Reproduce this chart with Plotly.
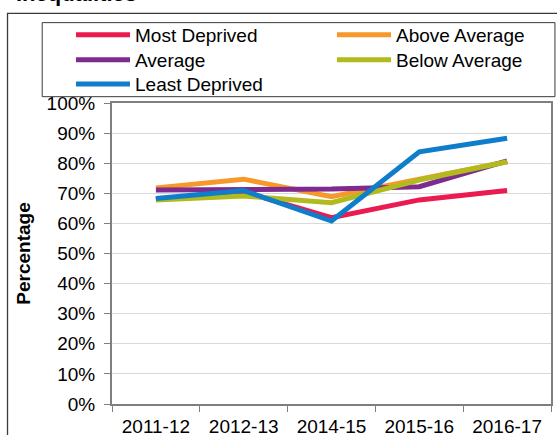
import plotly.graph_objects as go

years = ["2011-12", "2012-13", "2014-15", "2015-16", "2016-17"]
most_deprived = [68.0, 70.5, 61.9, 67.8, 70.9]
above_average = [71.8, 74.7, 68.9, 74.9, 80.5]
average = [71.1, 71.1, 71.4, 72.2, 80.8]
below_average = [67.8, 69.1, 66.9, 74.4, 80.5]
least_deprived = [68.3, 70.9, 60.8, 83.8, 88.3]

series = [
    ("Most Deprived", most_deprived, "#EB1A50", "legend"),
    ("Above Average", above_average, "#F7992A", "legend"),
    ("Average", average, "#7E2A8E", "legend2"),
    ("Below Average", below_average, "#B2BB1E", "legend2"),
    ("Least Deprived", least_deprived, "#0E7ECB", "legend3"),
]

FONT = "Liberation Sans, Arial, sans-serif"

fig = go.Figure()
for name, vals, col, lg in series:
    fig.add_trace(go.Scatter(x=years, y=vals, name=name, mode="lines",
                             line=dict(color=col, width=5), legend=lg))


def leg(y):
    return dict(orientation="h", x=-0.0934, xanchor="left", y=y, yanchor="top",
                entrywidth=192, entrywidthmode="pixels", itemwidth=54,
                bgcolor="rgba(0,0,0,0)", borderwidth=0,
                font=dict(family=FONT, size=19, color="black"),
                traceorder="normal")


fig.update_layout(
    width=557, height=435,
    margin=dict(l=112, r=6, t=103, b=31, autoexpand=False),
    paper_bgcolor="white", plot_bgcolor="white",
    font=dict(family=FONT, size=19, color="black"),
    showlegend=True,
    legend=leg(1.289),
    legend2=leg(1.206),
    legend3=leg(1.126),
    xaxis=dict(type="category", range=[-0.5, 4.5], tickson="boundaries",
               ticks="outside", ticklen=6, tickcolor="#7f7f7f", tickwidth=1,
               showline=True, linecolor="#7f7f7f", linewidth=2, mirror=True,
               showgrid=False, ticklabelstandoff=4,
               tickfont=dict(family=FONT, size=19, color="black")),
    yaxis=dict(range=[0, 100], dtick=10, ticksuffix="%",
               ticks="outside", ticklen=6, tickcolor="#7f7f7f", tickwidth=1,
               showline=True, linecolor="#7f7f7f", linewidth=2, mirror=True,
               showgrid=True, gridcolor="#d9d9d9", gridwidth=1,
               ticklabelstandoff=5, zeroline=False,
               title=dict(text="<b>Percentage</b>", standoff=11,
                          font=dict(family=FONT, size=19, color="black")),
               tickfont=dict(family=FONT, size=19, color="black")),
    shapes=[
        dict(type="path", xref="paper", yref="paper",
             path="M -0.238,-0.2 L -0.238,1.298 L 1.05,1.298",
             line=dict(color="#3a3a3a", width=1.3)),
        dict(type="rect", xref="paper", yref="paper",
             x0=-0.159, x1=1.009, y0=1.021, y1=1.267,
             line=dict(color="#3a3a3a", width=1), fillcolor="rgba(0,0,0,0)"),
    ],
    annotations=[
        dict(text="<b>Inequalities</b>", xref="paper", yref="paper",
             x=-0.2233, y=1.317, xanchor="left", yanchor="bottom",
             showarrow=False, font=dict(family=FONT, size=22, color="black")),
    ],
)

fig.write_html("out.html", config={"displayModeBar": False},
               post_script="document.body.style.margin='0';")
